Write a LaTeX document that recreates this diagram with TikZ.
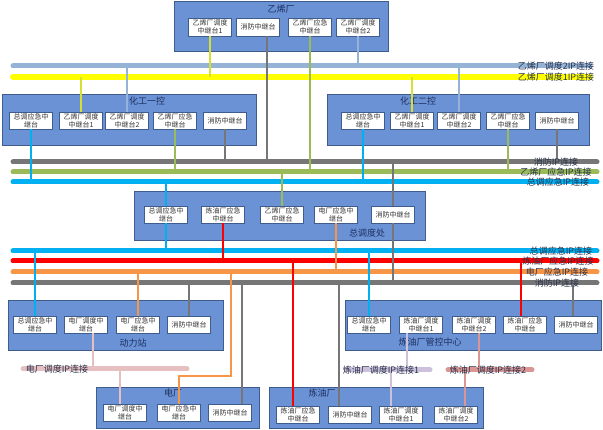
\documentclass[tikz,border=0pt]{standalone}
\usepackage{fontspec}
\setmainfont{Noto Sans CJK SC}
\definecolor{grpblue}{RGB}{108,146,214}
\definecolor{grpline}{RGB}{62,92,140}
\definecolor{titleblue}{RGB}{28,48,96}
\definecolor{steelline}{RGB}{149,179,215}
\definecolor{yellowline}{RGB}{255,255,0}
\definecolor{yellowlink}{RGB}{214,224,50}
\definecolor{grayline}{RGB}{118,118,118}
\definecolor{greenline}{RGB}{155,187,89}
\definecolor{blueline}{RGB}{0,176,240}
\definecolor{redline}{RGB}{255,0,0}
\definecolor{orangeline}{RGB}{247,150,70}
\definecolor{pinkline}{RGB}{230,192,192}
\definecolor{lilacline}{RGB}{204,192,218}
\definecolor{roseline}{RGB}{218,150,148}
\definecolor{labeltext}{RGB}{40,50,75}
\begin{document}
\begin{tikzpicture}[
        x = 1pt, y = -1pt,
        grp/.style = {draw = grpline, fill = grpblue, line width = 0.8pt},
        grptitle/.style = {text = titleblue, font = \fontsize{9}{10}\selectfont, inner sep = 0pt},
        relay/.style = {draw = grpline, fill = white, line width = 0.6pt, minimum width = 43pt, minimum height = 17pt, inner sep = 0pt, align = center, text = black!80, font = \fontsize{7}{7.8}\selectfont},
        bus/.style = {line width = 5pt, line cap = round},
        link/.style = {line width = 1.3pt},
        buslabel/.style = {text = labeltext, font = \fontsize{9}{10}\selectfont, inner sep = 0pt}
    ]
    \useasboundingbox (0,0) rectangle (603,430);

    \node[grp, minimum width = 214pt, minimum height = 50pt] (yx) at (281,26) {};
    \node[grp, minimum width = 254pt, minimum height = 51pt] (hg1) at (129,119.5) {};
    \node[grp, minimum width = 262pt, minimum height = 51pt] (hg2) at (458,119.5) {};
    \node[grp, minimum width = 291pt, minimum height = 49pt] (zd) at (279.5,215.5) {};
    \node[grp, minimum width = 215pt, minimum height = 50pt] (dl) at (115.5,325) {};
    \node[grp, minimum width = 163pt, minimum height = 41pt] (dc) at (177.5,407.5) {};
    \node[grp, minimum width = 256pt, minimum height = 50pt] (gk) at (473.5,325) {};
    \node[grp, minimum width = 214pt, minimum height = 41pt] (lc) at (376,407.5) {};

    \node[grptitle] (yxT) at (281,9) {乙烯厂};
    \node[grptitle] (hg1T) at (147,101) {化工一控};
    \node[grptitle] (hg2T) at (418,101) {化工二控};
    \node[grptitle] (zdT) at (367,233) {总调度处};
    \node[grptitle] (dlT) at (133,343) {动力站};
    \node[grptitle] (dcT) at (173,393) {电厂};
    \node[grptitle] (gkT) at (430,342) {炼油厂管控中心};
    \node[grptitle] (lcT) at (322,393) {炼油厂};

    \node[relay, minimum height = 18pt] (ya1) at (210,27) {乙烯厂调度\\中继台1};
    \node[relay, minimum height = 18pt] (ya2) at (258,27) {消防中继台};
    \node[relay, minimum height = 18pt] (ya3) at (310,27) {乙烯厂应急\\中继台};
    \node[relay, minimum height = 18pt] (ya4) at (358,27) {乙烯厂调度\\中继台2};

    \node[relay] (h1a) at (31,120.5) {总调应急中\\继台};
    \node[relay] (h1b) at (81,120.5) {乙烯厂调度\\中继台1};
    \node[relay] (h1c) at (127,120.5) {乙烯厂调度\\中继台2};
    \node[relay] (h1d) at (175,120.5) {乙烯厂应急\\中继台};
    \node[relay] (h1e) at (225,120.5) {消防中继台};

    \node[relay] (h2a) at (363,120.5) {总调应急中\\继台};
    \node[relay] (h2b) at (412,120.5) {乙烯厂调度\\中继台1};
    \node[relay] (h2c) at (459,120.5) {乙烯厂调度\\中继台2};
    \node[relay] (h2d) at (508,120.5) {乙烯厂应急\\中继台};
    \node[relay] (h2e) at (557,120.5) {消防中继台};

    \node[relay] (z1) at (166,214.5) {总调应急中\\继台};
    \node[relay] (z2) at (223,214.5) {炼油厂应急\\中继台};
    \node[relay] (z3) at (282,214.5) {乙烯厂应急\\中继台};
    \node[relay] (z4) at (336,214.5) {电厂应急中\\继台};
    \node[relay] (z5) at (393,214.5) {消防中继台};

    \node[relay] (d1) at (35,324.5) {总调应急中\\继台};
    \node[relay] (d2) at (86,324.5) {电厂调度中\\继台};
    \node[relay] (d3) at (138,324.5) {电厂应急中\\继台};
    \node[relay] (d4) at (189,324.5) {消防中继台};

    \node[relay] (e1) at (125,412.5) {电厂调度中\\继台};
    \node[relay] (e2) at (179,412.5) {电厂应急中\\继台};
    \node[relay] (e3) at (230,412.5) {消防中继台};

    \node[relay] (g1) at (369,324.5) {总调应急中\\继台};
    \node[relay] (g2) at (421,324.5) {炼油厂调度\\中继台1};
    \node[relay] (g3) at (474,324.5) {炼油厂调度\\中继台2};
    \node[relay] (g4) at (525,324.5) {炼油厂应急\\中继台};
    \node[relay] (g5) at (576,324.5) {消防中继台};

    \node[relay] (l1) at (298,414.5) {炼油厂应急\\中继台};
    \node[relay] (l2) at (350,414.5) {消防中继台};
    \node[relay] (l3) at (401,414.5) {炼油厂调度\\中继台1};
    \node[relay] (l4) at (456,414.5) {炼油厂调度\\中继台2};

    \coordinate (yd2w) at (13,66);   \coordinate (yd2e) at (590,66);
    \coordinate (yd1w) at (13,77);   \coordinate (yd1e) at (590,77);
    \coordinate (xf1w) at (13,162);  \coordinate (xf1e) at (597,162);
    \coordinate (yjw) at (13,172);   \coordinate (yje) at (597,172);
    \coordinate (zj1w) at (13,182);  \coordinate (zj1e) at (597,182);
    \coordinate (zj2w) at (13,251);  \coordinate (zj2e) at (597,251);
    \coordinate (ljw) at (13,261);   \coordinate (lje) at (597,261);
    \coordinate (djw) at (13,272);   \coordinate (dje) at (597,272);
    \coordinate (xf2w) at (13,283);  \coordinate (xf2e) at (597,283);
    \coordinate (ddw) at (23,369);   \coordinate (dde) at (187,369);
    \coordinate (ld1w) at (346,370); \coordinate (ld1e) at (430,370);
    \coordinate (ld2w) at (448,370); \coordinate (ld2e) at (532,370);
    \coordinate (ebend) at (231,376);

    \draw[bus, steelline] (yd2w) -- (yd2e);
    \draw[bus, yellowline, line width = 6pt] (yd1w) -- (yd1e);
    \draw[bus, grayline] (xf1w) -- (xf1e);
    \draw[bus, greenline] (yjw) -- (yje);
    \draw[bus, blueline] (zj1w) -- (zj1e);
    \draw[bus, blueline] (zj2w) -- (zj2e);
    \draw[bus, redline] (ljw) -- (lje);
    \draw[bus, orangeline] (djw) -- (dje);
    \draw[bus, grayline] (xf2w) -- (xf2e);
    \draw[bus, pinkline] (ddw) -- (dde);
    \draw[bus, lilacline] (ld1w) -- (ld1e);
    \draw[bus, roseline] (ld2w) -- (ld2e);

    \draw[link, yellowlink] (ya1.south) -- (ya1.south |- yd1w);
    \draw[link, grayline] ([xshift = 9pt]ya2.south) coordinate (p) -- (p |- xf1w);
    \draw[link, greenline] (ya3.south) -- (ya3.south |- yjw);
    \draw[link, steelline] (ya4.south) -- (ya4.south |- yd2w);

    \draw[link, blueline] (h1a.south) -- (h1a.south |- zj1w);
    \draw[link, yellowlink] (h1b.north) -- (h1b.north |- yd1w);
    \draw[link, steelline] (h1c.north) -- (h1c.north |- yd2w);
    \draw[link, greenline] (h1d.south) -- (h1d.south |- yjw);
    \draw[link, grayline] (h1e.south) -- (h1e.south |- xf1w);

    \draw[link, blueline] (h2a.south) -- (h2a.south |- zj1w);
    \draw[link, yellowlink] (h2b.north) -- (h2b.north |- yd1w);
    \draw[link, steelline] (h2c.north) -- (h2c.north |- yd2w);
    \draw[link, greenline] (h2d.south) -- (h2d.south |- yjw);
    \draw[link, grayline] (h2e.south) -- (h2e.south |- xf1w);

    \draw[link, blueline] (z1.north) -- (z1.north |- zj1w);
    \draw[link, blueline] (z1.south) -- (z1.south |- zj2w);
    \draw[link, redline] (z2.south) -- (z2.south |- ljw);
    \draw[link, greenline] (z3.north) -- (z3.north |- yjw);
    \draw[link, orangeline] (z4.south) -- (z4.south |- djw);
    \draw[link, grayline] (z5.north) -- (z5.north |- xf1w);
    \draw[link, grayline] (z5.south) -- (z5.south |- xf2w);

    \draw[link, blueline] (d1.north) -- (d1.north |- zj2w);
    \draw[link, pinkline] ([xshift = 7pt]d2.south) coordinate (p) -- (p |- ddw);
    \draw[link, orangeline] (d3.north) -- (d3.north |- djw);
    \draw[link, grayline] (d4.north) -- (d4.north |- xf2w);

    \draw[link, pinkline] ([xshift = -5pt]e1.north) coordinate (p) -- (p |- ddw);
    \draw[link, orangeline] (ebend |- djw) -- (ebend) -| (e2.north);
    \draw[link, grayline] ([xshift = 12pt]e3.north) coordinate (p) -- (p |- xf2w);

    \draw[link, blueline] (g1.north) -- (g1.north |- zj2w);
    \draw[link, lilacline] ([xshift = -14pt]g2.south) coordinate (p) -- (p |- ld1w);
    \draw[link, roseline] ([xshift = 5pt]g3.south) coordinate (p) -- (p |- ld2w);
    \draw[link, redline] ([xshift = -4pt]g4.north) coordinate (p) -- (p |- ljw);
    \draw[link, grayline] ([xshift = -3pt]g5.north) coordinate (p) -- (p |- xf2w);

    \draw[link, redline] ([xshift = -5pt]l1.north) coordinate (p) -- (p |- ljw);
    \draw[link, grayline] ([xshift = -11pt]l2.north) coordinate (p) -- (p |- xf2w);
    \draw[link, lilacline] ([xshift = -10pt]l3.north) coordinate (p) -- (p |- ld1w);
    \draw[link, roseline] ([xshift = 9pt]l4.north) coordinate (p) -- (p |- ld2w);

    \node[buslabel] (yd2L) at (556,66) {乙烯厂调度2IP连接};
    \node[buslabel] (yd1L) at (556,77) {乙烯厂调度1IP连接};
    \node[buslabel] (xf1L) at (556,162) {消防IP连接};
    \node[buslabel] (yjL) at (556,172) {乙烯厂应急IP连接};
    \node[buslabel] (zj1L) at (558,182) {总调应急IP连接};
    \node[buslabel] (zj2L) at (561,251) {总调应急IP连接};
    \node[buslabel] (ljL) at (558,261) {炼油厂应急IP连接};
    \node[buslabel] (djL) at (557,272) {电厂应急IP连接};
    \node[buslabel] (xf2L) at (557,283) {消防IP连接};
    \node[buslabel] (ddL) at (57,369) {电厂调度IP连接};
    \node[buslabel] (ld1L) at (381,370) {炼油厂调度IP连接1};
    \node[buslabel] (ld2L) at (488,370) {炼油厂调度IP连接2};
\end{tikzpicture}
\end{document}
